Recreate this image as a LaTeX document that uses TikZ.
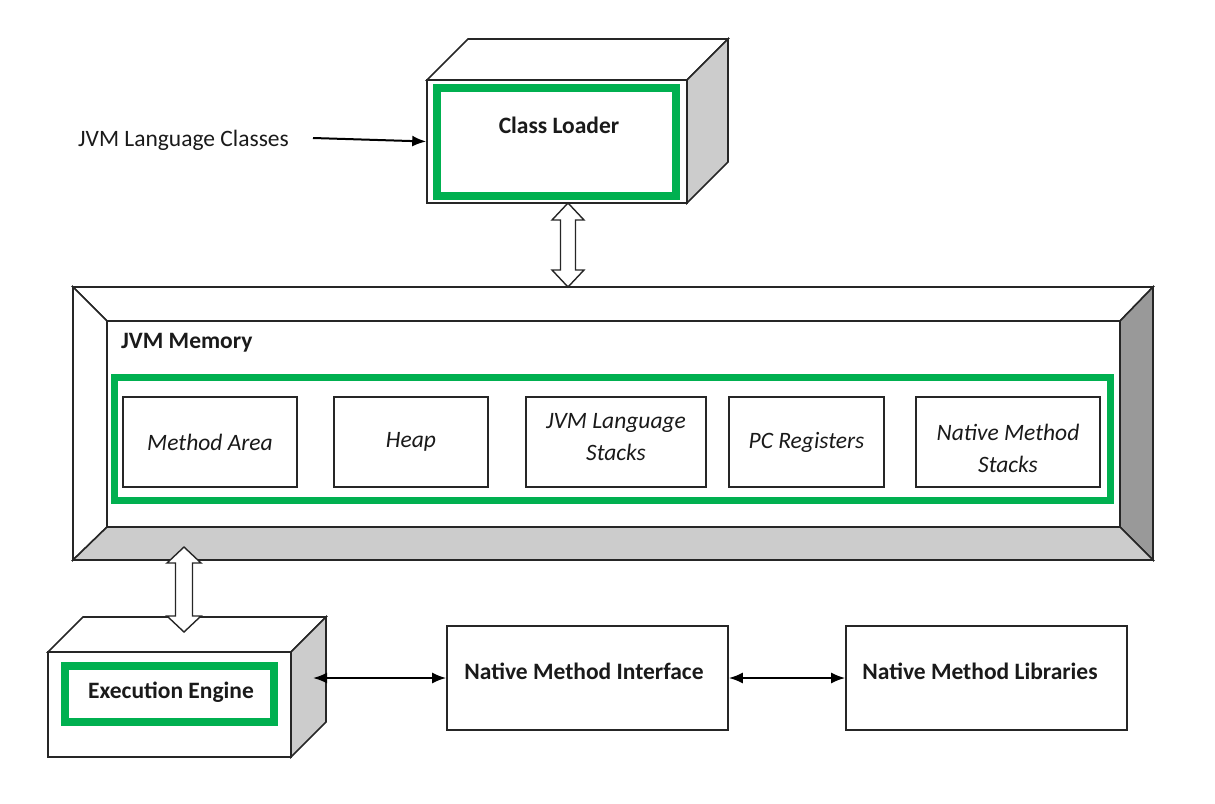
\documentclass[tikz,border=0pt]{standalone}
\usepackage{fontspec}
\setmainfont{Carlito}
\usetikzlibrary{arrows.meta}

\definecolor{framegreen}{HTML}{00B050}
\definecolor{lightface}{HTML}{CCCCCC}
\definecolor{darkface}{HTML}{999999}
\definecolor{edgeline}{HTML}{262626}
\definecolor{inktext}{HTML}{1A1A1A}

\begin{document}
\begin{tikzpicture}[x=1pt,y=-1pt,
  outline/.style={draw=edgeline,line width=1.6pt,line join=miter},
  face/.style={outline,fill=white},
  shade/.style={outline,fill=lightface},
  deepshade/.style={outline,fill=darkface},
  greenframe/.style={draw=framegreen,line width=8pt},
  plainbox/.style={outline,fill=white,inner sep=0pt},
  membox/.style={outline,line width=1.3pt,fill=white,minimum height=90pt,inner sep=0pt,
    align=center,text=inktext,font=\fontsize{23.5}{32}\selectfont\itshape},
  boldlabel/.style={text=inktext,font=\fontsize{23.5}{28}\selectfont\bfseries,inner sep=0pt},
  hollow/.style={outline,line width=1.4pt,fill=white},
  link/.style={draw=black,line width=2pt,{Latex[length=14pt,width=11pt]}-{Latex[length=14pt,width=11pt]}},
  feed/.style={draw=black,line width=2pt,-{Latex[length=14pt,width=11pt]}}
]
\useasboundingbox (0,0) rectangle (1215,803);

% ---------- JVM Memory bevelled frame ----------
\draw[face]       (73,287) -- (1153,287) -- (1120,321) -- (107,321) -- cycle;
\draw[face]       (73,287) -- (107,321) -- (107,527) -- (73,560) -- cycle;
\draw[deepshade]  (1153,287) -- (1153,560) -- (1120,527) -- (1120,321) -- cycle;
\draw[shade]      (73,560) -- (1153,560) -- (1120,527) -- (107,527) -- cycle;
\node[plainbox,minimum width=1013pt,minimum height=206pt] (mem) at (613.5,424) {};
\node[boldlabel,anchor=west] (memtitle) at (121,343) {JVM Memory};
\draw[draw=framegreen,line width=7pt] (114,377) rectangle (1110,500);

\node[membox,minimum width=174pt] (methodarea) at (210,442) {Method Area};
\node[membox,minimum width=154pt] (heap)       at (411,442) {Heap};
\node[membox,minimum width=180pt] (langstacks) at (616,442) {};
\node[text=inktext,font=\fontsize{23.5}{32}\selectfont\itshape,align=center,inner sep=0pt]
  (langstackstext) at (616,437) {JVM Language\\Stacks};
\node[membox,minimum width=155pt] (pcreg)      at (806.5,442) {PC Registers};
\node[membox,minimum width=184pt] (natstacks)  at (1008,442) {};
\node[text=inktext,font=\fontsize{23.5}{32}\selectfont\itshape,align=center,inner sep=0pt]
  (natstackstext) at (1008,448) {Native Method\\Stacks};

% ---------- Class Loader block ----------
\draw[face]  (427,80) -- (468,39) -- (728,39) -- (687,80) -- cycle;
\draw[shade] (687,80) -- (728,39) -- (728,162) -- (687,203) -- cycle;
\node[plainbox,minimum width=260pt,minimum height=123pt] (cl) at (557,141.5) {};
\draw[greenframe] (437,88) rectangle (676,196);
\node[boldlabel] (cltext) at (559,125) {Class Loader};

\node[text=inktext,font=\fontsize{23.5}{28}\selectfont,inner sep=0pt,anchor=west]
  (langclasses) at (78,140) {JVM Language Classes};
\coordinate (feedstart) at (313,138);
\draw[feed] (feedstart) -- (cl.west);

% ---------- Execution Engine block ----------
\draw[face]  (48,652) -- (83,617) -- (326,617) -- (291,652) -- cycle;
\draw[shade] (291,652) -- (326,617) -- (326,722) -- (291,757) -- cycle;
\node[plainbox,minimum width=243pt,minimum height=105pt] (ee) at (169.5,704.5) {};
\draw[greenframe] (65,666) rectangle (274,722);
\node[boldlabel] (eetext) at (171,692) {Execution Engine};

% ---------- native side ----------
\node[plainbox,minimum width=281pt,minimum height=104pt] (nmi) at (587.5,678) {};
\node[boldlabel] (nmitext) at (584,671) {Native Method Interface};
\node[plainbox,minimum width=281pt,minimum height=104pt] (nml) at (986.5,678) {};
\node[boldlabel] (nmltext) at (980,671) {Native Method Libraries};

\coordinate (eeport) at (313,678);
\draw[link] (eeport) -- (nmi.west);
\draw[link] (nmi.east) -- (nml.west);

% ---------- hollow two-way arrows ----------
% Class Loader <-> JVM Memory
\draw[hollow] (568,203) -- (584,220) -- (575.5,220) -- (575.5,270) -- (584,270)
  -- (568,287) -- (552,270) -- (560.5,270) -- (560.5,220) -- (552,220) -- cycle;
% JVM Memory <-> Execution Engine
\draw[hollow] (184,547) -- (201,563) -- (192.5,563) -- (192.5,616) -- (201,616)
  -- (184,632) -- (167,616) -- (175.5,616) -- (175.5,563) -- (167,563) -- cycle;
\end{tikzpicture}
\end{document}
